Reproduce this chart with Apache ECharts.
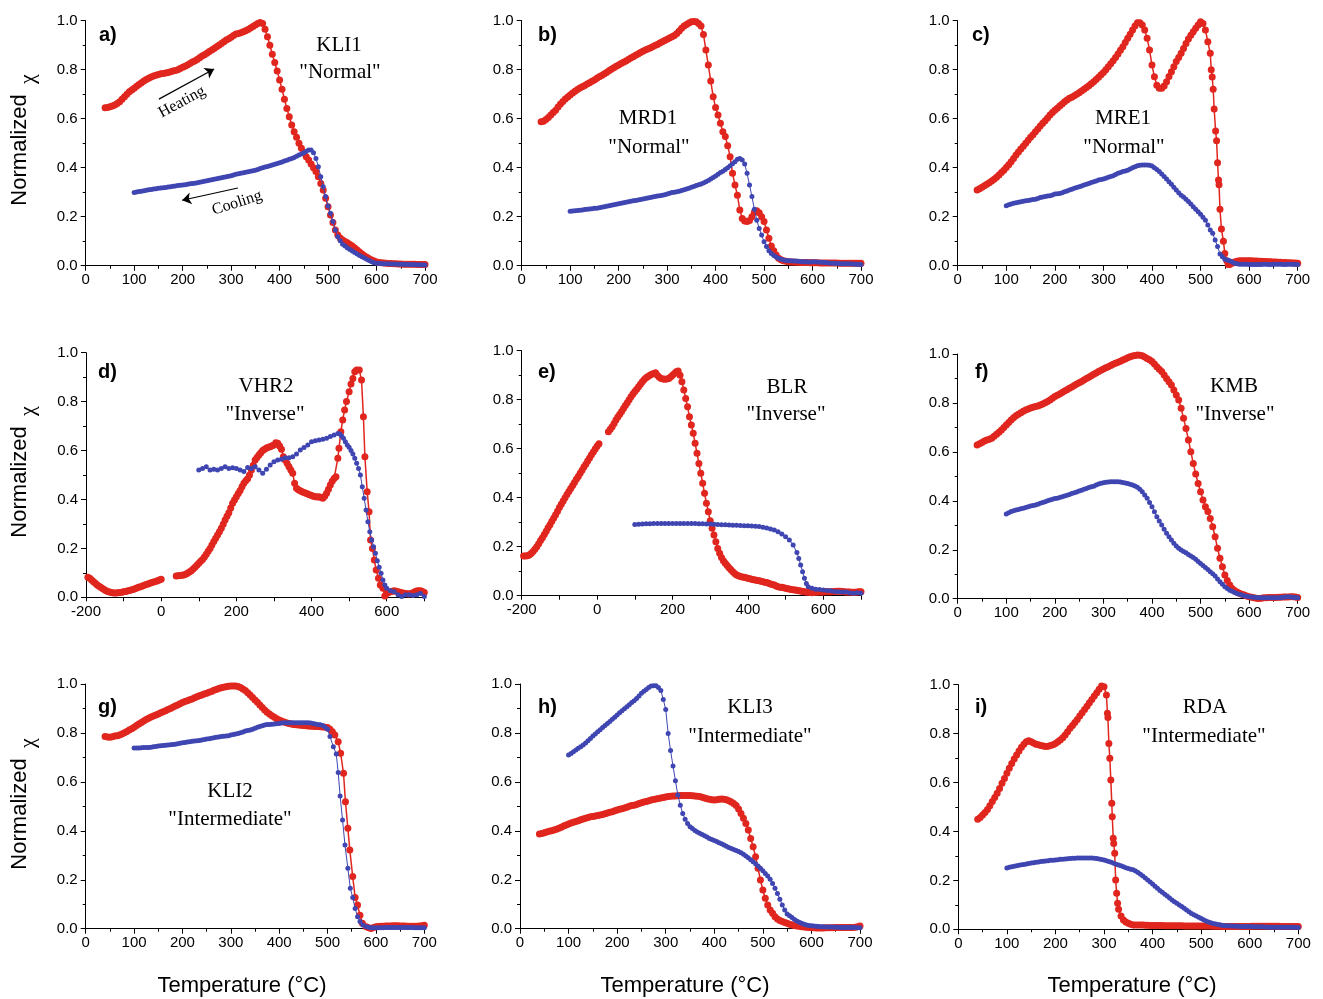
<!DOCTYPE html>
<html>
<head>
<meta charset="utf-8">
<script src="https://cdn.jsdelivr.net/npm/echarts@6/dist/echarts.min.js"></script>
<style>
html, body { margin: 0; padding: 0; background: #ffffff; }
#chart { width: 1323px; height: 999px; }
</style>
</head>
<body>
<div id="chart"></div>
<script>
// Normalized susceptibility vs temperature: heating (red) and cooling (blue) runs, [T (°C), chi]

const aHeat = [[40,0.645],[45,0.646],[50,0.649],[55,0.652],[60,0.656],[65,0.662],[70,0.669],[75,0.679],[80,0.69],[85,0.70],[90,0.71],[95,0.717],[100,0.724],[105,0.732],[110,0.74],[115,0.747],[120,0.754],[125,0.76],[130,0.765],[135,0.77],[140,0.774],[145,0.777],[150,0.78],[155,0.783],[160,0.785],[165,0.787],[170,0.789],[175,0.792],[180,0.795],[185,0.797],[190,0.80],[195,0.805],[200,0.81],[205,0.814],[210,0.819],[215,0.825],[220,0.831],[225,0.836],[230,0.842],[235,0.849],[240,0.856],[245,0.861],[250,0.867],[255,0.874],[260,0.88],[265,0.887],[270,0.894],[275,0.90],[280,0.907],[285,0.914],[290,0.921],[295,0.926],[300,0.932],[305,0.94],[310,0.946],[315,0.948],[320,0.951],[325,0.955],[330,0.959],[335,0.964],[340,0.97],[345,0.976],[350,0.982],[355,0.989],[360,0.993],[365,0.989],[370,0.965],[375,0.935],[380,0.90],[385,0.863],[390,0.829],[395,0.795],[400,0.758],[405,0.72],[410,0.679],[415,0.642],[420,0.608],[425,0.574],[430,0.547],[435,0.524],[440,0.50],[445,0.479],[450,0.461],[455,0.445],[460,0.431],[465,0.415],[470,0.40],[475,0.384],[480,0.363],[485,0.336],[490,0.309],[495,0.275],[500,0.241],[505,0.207],[510,0.176],[515,0.146],[520,0.125],[525,0.113],[530,0.105],[535,0.099],[540,0.094],[545,0.087],[550,0.08],[555,0.072],[560,0.064],[565,0.056],[570,0.048],[575,0.041],[580,0.034],[585,0.028],[590,0.023],[595,0.019],[600,0.015],[605,0.013],[610,0.012],[615,0.011],[620,0.01],[625,0.009],[630,0.009],[635,0.008],[640,0.008],[645,0.007],[650,0.007],[655,0.006],[660,0.006],[665,0.006],[670,0.006],[675,0.006],[680,0.006],[685,0.005],[690,0.005],[695,0.005],[700,0.005]];
const aCool = [[700,0.003],[695,0.003],[690,0.004],[685,0.004],[680,0.004],[675,0.005],[670,0.005],[665,0.005],[660,0.005],[655,0.006],[650,0.006],[645,0.006],[640,0.007],[635,0.007],[630,0.007],[625,0.008],[620,0.008],[615,0.008],[610,0.009],[605,0.009],[600,0.01],[595,0.012],[590,0.016],[585,0.021],[580,0.026],[575,0.031],[570,0.037],[565,0.042],[560,0.048],[555,0.054],[550,0.06],[545,0.066],[540,0.072],[535,0.08],[530,0.088],[525,0.102],[520,0.118],[515,0.146],[510,0.18],[505,0.214],[500,0.244],[495,0.282],[490,0.322],[485,0.363],[480,0.404],[475,0.438],[470,0.461],[465,0.472],[460,0.472],[455,0.467],[450,0.461],[445,0.456],[440,0.452],[435,0.447],[430,0.442],[425,0.438],[420,0.434],[415,0.43],[410,0.427],[405,0.423],[400,0.42],[395,0.417],[390,0.414],[385,0.411],[380,0.408],[375,0.405],[370,0.403],[365,0.40],[360,0.397],[355,0.393],[350,0.39],[345,0.388],[340,0.386],[335,0.383],[330,0.381],[325,0.379],[320,0.377],[315,0.375],[310,0.373],[305,0.37],[300,0.367],[295,0.365],[290,0.363],[285,0.361],[280,0.359],[275,0.357],[270,0.355],[265,0.353],[260,0.351],[255,0.349],[250,0.347],[245,0.345],[240,0.343],[235,0.341],[230,0.339],[225,0.337],[220,0.336],[215,0.334],[210,0.332],[205,0.33],[200,0.329],[195,0.328],[190,0.327],[185,0.325],[180,0.324],[175,0.322],[170,0.321],[165,0.319],[160,0.318],[155,0.317],[150,0.316],[145,0.314],[140,0.313],[135,0.311],[130,0.31],[125,0.308],[120,0.306],[115,0.304],[110,0.303],[105,0.301],[100,0.299]];

const bHeat = [[40,0.588],[45,0.59],[50,0.597],[55,0.605],[60,0.615],[65,0.625],[70,0.635],[75,0.648],[80,0.66],[85,0.67],[90,0.68],[95,0.689],[100,0.697],[105,0.705],[110,0.712],[115,0.719],[120,0.725],[125,0.73],[130,0.736],[135,0.742],[140,0.747],[145,0.753],[150,0.758],[155,0.765],[160,0.771],[165,0.776],[170,0.782],[175,0.789],[180,0.796],[185,0.802],[190,0.808],[195,0.814],[200,0.819],[205,0.825],[210,0.83],[215,0.836],[220,0.842],[225,0.848],[230,0.853],[235,0.859],[240,0.864],[245,0.87],[250,0.875],[255,0.88],[260,0.884],[265,0.889],[270,0.894],[275,0.899],[280,0.903],[285,0.909],[290,0.914],[295,0.919],[300,0.924],[305,0.929],[310,0.934],[315,0.94],[320,0.948],[325,0.958],[330,0.969],[335,0.978],[340,0.985],[345,0.991],[350,0.996],[355,0.997],[360,0.996],[365,0.989],[370,0.978],[375,0.944],[380,0.88],[385,0.819],[390,0.754],[395,0.69],[400,0.646],[405,0.615],[410,0.581],[415,0.547],[420,0.527],[425,0.49],[430,0.445],[435,0.377],[440,0.329],[445,0.288],[450,0.227],[455,0.193],[460,0.182],[465,0.18],[470,0.184],[475,0.20],[480,0.218],[485,0.224],[490,0.216],[495,0.20],[500,0.18],[505,0.146],[510,0.112],[515,0.08],[520,0.061],[525,0.044],[530,0.03],[535,0.024],[540,0.02],[545,0.018],[550,0.016],[555,0.015],[560,0.015],[565,0.014],[570,0.014],[575,0.013],[580,0.013],[585,0.013],[590,0.013],[595,0.012],[600,0.012],[605,0.012],[610,0.012],[615,0.011],[620,0.011],[625,0.011],[630,0.011],[635,0.011],[640,0.011],[645,0.011],[650,0.011],[655,0.01],[660,0.01],[665,0.01],[670,0.01],[675,0.01],[680,0.01],[685,0.01],[690,0.01],[695,0.01],[700,0.01]];
const bCool = [[700,0.005],[695,0.006],[690,0.006],[685,0.007],[680,0.007],[675,0.008],[670,0.008],[665,0.008],[660,0.008],[655,0.009],[650,0.009],[645,0.01],[640,0.01],[635,0.011],[630,0.012],[625,0.013],[620,0.014],[615,0.014],[610,0.015],[605,0.016],[600,0.016],[595,0.015],[590,0.015],[585,0.016],[580,0.016],[575,0.017],[570,0.018],[565,0.019],[560,0.019],[555,0.02],[550,0.02],[545,0.021],[540,0.023],[535,0.026],[530,0.03],[525,0.036],[520,0.042],[515,0.05],[510,0.061],[505,0.078],[500,0.098],[495,0.125],[490,0.152],[485,0.186],[480,0.23],[475,0.282],[470,0.329],[465,0.377],[460,0.415],[455,0.431],[450,0.438],[445,0.434],[440,0.424],[435,0.416],[430,0.408],[425,0.40],[420,0.393],[415,0.386],[410,0.38],[405,0.373],[400,0.366],[395,0.36],[390,0.354],[385,0.348],[380,0.343],[375,0.338],[370,0.333],[365,0.33],[360,0.327],[355,0.323],[350,0.32],[345,0.316],[340,0.313],[335,0.31],[330,0.307],[325,0.304],[320,0.302],[315,0.30],[310,0.299],[305,0.296],[300,0.293],[295,0.29],[290,0.288],[285,0.286],[280,0.284],[275,0.282],[270,0.28],[265,0.278],[260,0.276],[255,0.274],[250,0.272],[245,0.27],[240,0.268],[235,0.266],[230,0.265],[225,0.263],[220,0.261],[215,0.259],[210,0.257],[205,0.255],[200,0.253],[195,0.251],[190,0.249],[185,0.247],[180,0.245],[175,0.243],[170,0.241],[165,0.239],[160,0.237],[155,0.235],[150,0.234],[145,0.232],[140,0.231],[135,0.23],[130,0.229],[125,0.227],[120,0.226],[115,0.225],[110,0.224],[105,0.223],[100,0.222]];

const cHeat = [[40,0.309],[45,0.314],[50,0.32],[55,0.326],[60,0.332],[65,0.339],[70,0.346],[75,0.353],[80,0.361],[85,0.37],[90,0.38],[95,0.39],[100,0.401],[105,0.412],[110,0.424],[115,0.438],[120,0.452],[125,0.464],[130,0.476],[135,0.488],[140,0.50],[145,0.512],[150,0.524],[155,0.535],[160,0.547],[165,0.558],[170,0.57],[175,0.581],[180,0.592],[185,0.603],[190,0.615],[195,0.625],[200,0.635],[205,0.643],[210,0.652],[215,0.66],[220,0.669],[225,0.676],[230,0.683],[235,0.688],[240,0.694],[245,0.70],[250,0.706],[255,0.713],[260,0.72],[265,0.727],[270,0.735],[275,0.743],[280,0.751],[285,0.76],[290,0.769],[295,0.779],[300,0.789],[305,0.80],[310,0.812],[315,0.824],[320,0.837],[325,0.85],[330,0.864],[335,0.879],[340,0.894],[345,0.911],[350,0.928],[355,0.945],[360,0.962],[365,0.978],[370,0.992],[375,0.992],[380,0.982],[385,0.962],[390,0.928],[395,0.88],[400,0.819],[405,0.771],[410,0.737],[415,0.724],[420,0.724],[425,0.733],[430,0.751],[435,0.772],[440,0.792],[445,0.812],[450,0.833],[455,0.85],[460,0.867],[465,0.887],[470,0.907],[475,0.925],[480,0.941],[485,0.955],[490,0.969],[495,0.982],[500,0.996],[505,0.989],[510,0.962],[515,0.914],[520,0.867],[522,0.80],[524,0.77],[526,0.72],[528,0.64],[531,0.55],[533,0.51],[535,0.42],[537,0.35],[538,0.33],[540,0.23],[543,0.15],[547,0.10],[550,0.05],[554,0.02],[557,0.005],[560,0.005],[565,0.01],[570,0.015],[575,0.018],[580,0.02],[585,0.02],[590,0.02],[595,0.02],[600,0.02],[605,0.02],[610,0.019],[615,0.019],[620,0.018],[625,0.018],[630,0.017],[635,0.017],[640,0.016],[645,0.016],[650,0.015],[655,0.015],[660,0.014],[665,0.014],[670,0.013],[675,0.013],[680,0.012],[685,0.012],[690,0.011],[695,0.011],[700,0.01]];
const cCool = [[700,0.005],[695,0.005],[690,0.006],[685,0.006],[680,0.006],[675,0.005],[670,0.005],[665,0.006],[660,0.006],[655,0.006],[650,0.006],[645,0.005],[640,0.005],[635,0.006],[630,0.006],[625,0.005],[620,0.005],[615,0.005],[610,0.005],[605,0.005],[600,0.005],[595,0.006],[590,0.006],[585,0.006],[580,0.006],[575,0.008],[570,0.01],[565,0.015],[560,0.02],[555,0.023],[550,0.026],[545,0.037],[540,0.048],[535,0.078],[530,0.105],[525,0.132],[520,0.146],[515,0.166],[510,0.186],[505,0.198],[500,0.21],[495,0.22],[490,0.23],[485,0.241],[480,0.252],[475,0.262],[470,0.271],[465,0.28],[460,0.288],[455,0.298],[450,0.309],[445,0.32],[440,0.332],[435,0.343],[430,0.354],[425,0.364],[420,0.374],[415,0.384],[410,0.393],[405,0.40],[400,0.407],[395,0.41],[390,0.411],[385,0.411],[380,0.411],[375,0.41],[370,0.408],[365,0.404],[360,0.40],[355,0.395],[350,0.39],[345,0.387],[340,0.384],[335,0.38],[330,0.377],[325,0.372],[320,0.367],[315,0.364],[310,0.361],[305,0.357],[300,0.354],[295,0.352],[290,0.35],[285,0.346],[280,0.343],[275,0.34],[270,0.336],[265,0.332],[260,0.329],[255,0.325],[250,0.322],[245,0.319],[240,0.316],[235,0.312],[230,0.309],[225,0.305],[220,0.302],[215,0.298],[210,0.295],[205,0.294],[200,0.293],[195,0.289],[190,0.286],[185,0.284],[180,0.282],[175,0.28],[170,0.278],[165,0.274],[160,0.271],[155,0.27],[150,0.268],[145,0.266],[140,0.265],[135,0.263],[130,0.261],[125,0.259],[120,0.257],[115,0.255],[110,0.252],[105,0.249],[100,0.245]];

// low-temperature run (liquid nitrogen to room temperature) and high-temperature run
const dHeatLow = [[-195,0.082],[-190,0.078],[-185,0.071],[-180,0.064],[-175,0.057],[-170,0.05],[-165,0.045],[-160,0.04],[-155,0.035],[-150,0.03],[-145,0.026],[-140,0.023],[-135,0.021],[-130,0.019],[-125,0.018],[-120,0.018],[-115,0.019],[-110,0.02],[-105,0.021],[-100,0.023],[-95,0.024],[-90,0.026],[-85,0.028],[-80,0.03],[-75,0.032],[-70,0.035],[-65,0.038],[-60,0.041],[-55,0.043],[-50,0.046],[-45,0.049],[-40,0.052],[-35,0.054],[-30,0.057],[-25,0.06],[-20,0.063],[-15,0.065],[-10,0.068],[-5,0.071],[0,0.074]];
const dHeatHigh = [[40,0.087],[45,0.088],[50,0.089],[55,0.09],[60,0.091],[65,0.094],[70,0.098],[75,0.103],[80,0.109],[85,0.116],[90,0.123],[95,0.131],[100,0.139],[105,0.147],[110,0.155],[115,0.165],[120,0.176],[125,0.188],[130,0.20],[135,0.214],[140,0.228],[145,0.241],[150,0.255],[155,0.268],[160,0.282],[165,0.299],[170,0.316],[175,0.331],[180,0.346],[185,0.365],[190,0.384],[195,0.398],[200,0.411],[205,0.424],[210,0.437],[215,0.452],[220,0.466],[225,0.476],[230,0.485],[235,0.50],[240,0.52],[245,0.54],[250,0.561],[255,0.572],[260,0.582],[265,0.591],[270,0.60],[275,0.605],[280,0.61],[285,0.613],[290,0.616],[295,0.62],[300,0.623],[305,0.632],[310,0.63],[315,0.619],[320,0.605],[325,0.575],[330,0.561],[335,0.548],[340,0.534],[345,0.52],[350,0.507],[355,0.466],[360,0.446],[365,0.44],[370,0.436],[375,0.432],[380,0.428],[385,0.425],[390,0.422],[395,0.419],[400,0.416],[405,0.413],[410,0.411],[415,0.41],[420,0.411],[425,0.408],[430,0.405],[435,0.413],[440,0.425],[445,0.442],[450,0.459],[455,0.474],[460,0.486],[465,0.493],[470,0.568],[473,0.609],[478,0.677],[483,0.725],[488,0.766],[493,0.80],[500,0.84],[505,0.872],[510,0.895],[515,0.922],[520,0.929],[527,0.929],[533,0.888],[538,0.738],[542,0.575],[548,0.432],[553,0.35],[557,0.234],[562,0.20],[567,0.152],[572,0.112],[578,0.078],[583,0.05],[590,0.037],[595,0.005],[600,0.016],[605,0.02],[610,0.023],[615,0.025],[620,0.027],[625,0.025],[630,0.023],[635,0.021],[640,0.019],[645,0.017],[650,0.016],[655,0.015],[660,0.014],[665,0.016],[670,0.019],[675,0.023],[680,0.026],[685,0.027],[690,0.027],[695,0.024],[700,0.02]];
const dCool = [[700,0.003],[690,0.016],[680,0.01],[670,0.007],[660,0.01],[650,0.01],[640,0.003],[630,0.01],[620,0.023],[610,0.027],[600,0.037],[595,0.05],[590,0.071],[585,0.098],[580,0.123],[575,0.149],[570,0.18],[565,0.207],[560,0.234],[555,0.268],[550,0.309],[545,0.357],[540,0.405],[535,0.452],[530,0.50],[525,0.527],[520,0.548],[515,0.568],[510,0.586],[505,0.60],[500,0.613],[495,0.623],[490,0.636],[485,0.65],[480,0.659],[475,0.668],[470,0.67],[460,0.664],[450,0.657],[440,0.65],[430,0.646],[420,0.643],[410,0.64],[400,0.636],[390,0.623],[380,0.612],[370,0.602],[360,0.586],[350,0.575],[340,0.571],[330,0.571],[320,0.564],[310,0.561],[300,0.554],[290,0.541],[280,0.523],[270,0.507],[260,0.52],[250,0.534],[240,0.527],[230,0.531],[220,0.514],[210,0.52],[200,0.527],[190,0.53],[180,0.527],[170,0.534],[160,0.527],[150,0.52],[140,0.523],[130,0.52],[120,0.534],[110,0.527],[100,0.52]];

const eHeatLow = [[-195,0.162],[-190,0.162],[-185,0.163],[-180,0.166],[-175,0.172],[-170,0.18],[-165,0.19],[-160,0.20],[-155,0.212],[-150,0.225],[-145,0.237],[-140,0.25],[-135,0.263],[-130,0.277],[-125,0.29],[-120,0.304],[-115,0.317],[-110,0.33],[-105,0.345],[-100,0.36],[-95,0.373],[-90,0.387],[-85,0.40],[-80,0.413],[-75,0.425],[-70,0.438],[-65,0.45],[-60,0.462],[-55,0.475],[-50,0.487],[-45,0.50],[-40,0.512],[-35,0.525],[-30,0.537],[-25,0.55],[-20,0.562],[-15,0.575],[-10,0.587],[-5,0.599],[0,0.61],[5,0.62]];
const eHeatHigh = [[30,0.669],[35,0.679],[40,0.69],[45,0.703],[50,0.717],[55,0.729],[60,0.741],[65,0.752],[70,0.764],[75,0.776],[80,0.788],[85,0.80],[90,0.812],[95,0.823],[100,0.833],[105,0.843],[110,0.853],[115,0.863],[120,0.873],[125,0.882],[130,0.89],[135,0.895],[140,0.90],[145,0.904],[150,0.907],[155,0.91],[160,0.90],[165,0.892],[170,0.887],[175,0.884],[180,0.883],[185,0.884],[190,0.887],[195,0.893],[200,0.90],[205,0.907],[210,0.914],[215,0.917],[220,0.90],[225,0.873],[230,0.84],[235,0.805],[240,0.771],[245,0.73],[250,0.697],[255,0.663],[260,0.622],[265,0.581],[270,0.54],[275,0.50],[280,0.459],[285,0.418],[290,0.377],[295,0.343],[300,0.306],[305,0.275],[310,0.248],[315,0.22],[320,0.193],[325,0.173],[330,0.156],[335,0.143],[340,0.132],[345,0.123],[350,0.114],[355,0.106],[360,0.098],[365,0.091],[370,0.084],[375,0.081],[380,0.078],[385,0.076],[390,0.075],[395,0.073],[400,0.071],[405,0.069],[410,0.067],[415,0.065],[420,0.064],[425,0.062],[430,0.061],[435,0.059],[440,0.057],[445,0.055],[450,0.054],[455,0.051],[460,0.048],[465,0.046],[470,0.044],[475,0.04],[480,0.037],[485,0.035],[490,0.034],[495,0.032],[500,0.03],[505,0.028],[510,0.027],[515,0.025],[520,0.024],[525,0.023],[530,0.022],[535,0.02],[540,0.019],[545,0.017],[550,0.016],[555,0.015],[560,0.014],[565,0.013],[570,0.012],[575,0.013],[580,0.014],[585,0.015],[590,0.015],[595,0.015],[600,0.015],[605,0.016],[610,0.016],[615,0.016],[620,0.016],[625,0.017],[630,0.017],[635,0.018],[640,0.018],[645,0.018],[650,0.017],[655,0.016],[660,0.015],[665,0.015],[670,0.015],[675,0.014],[680,0.014],[685,0.014],[690,0.015],[695,0.016],[700,0.016]];
const eCool = [[700,0.01],[690,0.012],[680,0.01],[670,0.012],[660,0.015],[650,0.015],[640,0.016],[630,0.017],[620,0.02],[610,0.021],[600,0.023],[590,0.025],[580,0.026],[570,0.03],[560,0.037],[555,0.05],[550,0.071],[545,0.098],[540,0.125],[535,0.152],[530,0.176],[520,0.207],[510,0.227],[500,0.241],[490,0.252],[480,0.261],[470,0.268],[460,0.272],[450,0.276],[440,0.279],[430,0.282],[420,0.283],[410,0.284],[400,0.286],[390,0.286],[380,0.287],[370,0.288],[360,0.288],[350,0.289],[340,0.29],[330,0.29],[320,0.291],[310,0.292],[300,0.293],[290,0.293],[280,0.294],[270,0.294],[260,0.295],[250,0.295],[240,0.295],[230,0.295],[220,0.295],[210,0.295],[200,0.295],[190,0.295],[180,0.295],[170,0.295],[160,0.295],[150,0.295],[140,0.294],[130,0.294],[120,0.293],[110,0.292],[100,0.291]];

const fHeat = [[40,0.628],[45,0.633],[50,0.638],[55,0.644],[60,0.649],[65,0.652],[70,0.656],[75,0.664],[80,0.672],[85,0.68],[90,0.689],[95,0.70],[100,0.71],[105,0.72],[110,0.73],[115,0.739],[120,0.748],[125,0.754],[130,0.76],[135,0.766],[140,0.771],[145,0.775],[150,0.779],[155,0.782],[160,0.785],[165,0.788],[170,0.792],[175,0.796],[180,0.801],[185,0.806],[190,0.812],[195,0.819],[200,0.826],[205,0.831],[210,0.837],[215,0.843],[220,0.849],[225,0.854],[230,0.86],[235,0.865],[240,0.871],[245,0.877],[250,0.883],[255,0.888],[260,0.894],[265,0.90],[270,0.905],[275,0.911],[280,0.917],[285,0.922],[290,0.928],[295,0.934],[300,0.939],[305,0.944],[310,0.948],[315,0.953],[320,0.958],[325,0.962],[330,0.966],[335,0.97],[340,0.975],[345,0.98],[350,0.985],[355,0.989],[360,0.992],[365,0.994],[370,0.996],[375,0.995],[380,0.993],[385,0.988],[390,0.982],[395,0.976],[400,0.969],[405,0.959],[410,0.948],[415,0.938],[420,0.928],[425,0.914],[430,0.90],[435,0.887],[440,0.873],[445,0.853],[450,0.832],[455,0.812],[460,0.778],[465,0.737],[470,0.696],[475,0.649],[480,0.601],[485,0.553],[490,0.51],[495,0.471],[500,0.437],[505,0.403],[510,0.376],[515,0.356],[520,0.328],[525,0.294],[530,0.253],[535,0.206],[540,0.165],[545,0.131],[550,0.097],[555,0.074],[560,0.056],[565,0.042],[570,0.033],[575,0.027],[580,0.022],[585,0.018],[590,0.015],[595,0.011],[600,0.008],[605,0.006],[610,0.004],[615,0.002],[620,0.001],[625,0.002],[630,0.004],[635,0.004],[640,0.005],[645,0.005],[650,0.005],[655,0.005],[660,0.006],[665,0.006],[670,0.007],[675,0.007],[680,0.007],[685,0.008],[690,0.008],[695,0.007],[700,0.005]];
const fCool = [[700,0.004],[695,0.005],[690,0.006],[685,0.007],[680,0.008],[675,0.007],[670,0.006],[665,0.005],[660,0.004],[655,0.004],[650,0.004],[645,0.004],[640,0.004],[635,0.004],[630,0.004],[625,0.004],[620,0.004],[615,0.005],[610,0.006],[605,0.007],[600,0.008],[595,0.01],[590,0.012],[585,0.015],[580,0.018],[575,0.021],[570,0.025],[565,0.03],[560,0.035],[555,0.042],[550,0.049],[545,0.059],[540,0.069],[535,0.081],[530,0.093],[525,0.102],[520,0.11],[515,0.119],[510,0.128],[505,0.136],[500,0.144],[495,0.152],[490,0.161],[485,0.168],[480,0.174],[475,0.181],[470,0.188],[465,0.193],[460,0.199],[455,0.206],[450,0.215],[445,0.227],[440,0.24],[435,0.253],[430,0.267],[425,0.284],[420,0.301],[415,0.318],[410,0.335],[405,0.355],[400,0.376],[395,0.393],[390,0.41],[385,0.424],[380,0.437],[375,0.447],[370,0.455],[365,0.461],[360,0.465],[355,0.468],[350,0.471],[345,0.473],[340,0.475],[335,0.477],[330,0.478],[325,0.478],[320,0.478],[315,0.478],[310,0.477],[305,0.476],[300,0.474],[295,0.472],[290,0.469],[285,0.465],[280,0.46],[275,0.457],[270,0.454],[265,0.45],[260,0.447],[255,0.443],[250,0.44],[245,0.436],[240,0.433],[235,0.43],[230,0.426],[225,0.423],[220,0.42],[215,0.417],[210,0.414],[205,0.411],[200,0.409],[195,0.406],[190,0.403],[185,0.40],[180,0.396],[175,0.393],[170,0.39],[165,0.386],[160,0.383],[155,0.381],[150,0.379],[145,0.376],[140,0.373],[135,0.37],[130,0.368],[125,0.365],[120,0.362],[115,0.359],[110,0.356],[105,0.351],[100,0.346]];

const gHeat = [[40,0.785],[45,0.783],[50,0.782],[55,0.784],[60,0.787],[65,0.789],[70,0.792],[75,0.796],[80,0.801],[85,0.806],[90,0.812],[95,0.817],[100,0.823],[105,0.83],[110,0.837],[115,0.843],[120,0.849],[125,0.855],[130,0.86],[135,0.865],[140,0.869],[145,0.873],[150,0.877],[155,0.882],[160,0.887],[165,0.891],[170,0.896],[175,0.90],[180,0.905],[185,0.91],[190,0.914],[195,0.919],[200,0.924],[205,0.928],[210,0.932],[215,0.936],[220,0.939],[225,0.944],[230,0.948],[235,0.952],[240,0.955],[245,0.959],[250,0.962],[255,0.966],[260,0.969],[265,0.974],[270,0.978],[275,0.982],[280,0.985],[285,0.987],[290,0.989],[295,0.991],[300,0.992],[305,0.992],[310,0.992],[315,0.99],[320,0.986],[325,0.98],[330,0.973],[335,0.964],[340,0.955],[345,0.945],[350,0.935],[355,0.925],[360,0.914],[365,0.904],[370,0.894],[375,0.885],[380,0.877],[385,0.87],[390,0.864],[395,0.858],[400,0.853],[405,0.849],[410,0.845],[415,0.842],[420,0.839],[425,0.837],[430,0.835],[435,0.833],[440,0.832],[445,0.831],[450,0.83],[455,0.829],[460,0.828],[465,0.827],[470,0.827],[475,0.826],[480,0.826],[485,0.825],[490,0.824],[495,0.823],[500,0.822],[505,0.815],[510,0.805],[515,0.792],[522,0.764],[527,0.717],[533,0.635],[537,0.519],[542,0.41],[546,0.322],[552,0.213],[557,0.128],[562,0.097],[567,0.055],[572,0.022],[580,0.008],[585,0.004],[590,0.001],[595,0.005],[600,0.008],[605,0.009],[610,0.01],[615,0.01],[620,0.011],[625,0.011],[630,0.011],[635,0.012],[640,0.012],[645,0.012],[650,0.011],[655,0.011],[660,0.011],[665,0.01],[670,0.01],[675,0.01],[680,0.01],[685,0.01],[690,0.011],[695,0.012],[700,0.014]];
const gCool = [[700,0.004],[695,0.004],[690,0.004],[685,0.004],[680,0.004],[675,0.005],[670,0.005],[665,0.005],[660,0.005],[655,0.005],[650,0.005],[645,0.005],[640,0.005],[635,0.005],[630,0.005],[625,0.005],[620,0.005],[615,0.004],[610,0.004],[605,0.004],[600,0.004],[595,0.004],[590,0.004],[585,0.006],[580,0.008],[573,0.015],[567,0.029],[562,0.049],[557,0.083],[552,0.128],[547,0.165],[542,0.247],[536,0.342],[531,0.444],[526,0.542],[522,0.638],[518,0.714],[512,0.744],[505,0.785],[500,0.815],[495,0.823],[490,0.83],[485,0.833],[480,0.835],[475,0.837],[470,0.839],[465,0.841],[460,0.842],[455,0.842],[450,0.842],[445,0.842],[440,0.842],[435,0.842],[430,0.842],[425,0.842],[420,0.842],[415,0.842],[410,0.842],[405,0.841],[400,0.839],[395,0.838],[390,0.837],[385,0.836],[380,0.835],[375,0.834],[370,0.832],[365,0.829],[360,0.826],[355,0.823],[350,0.819],[345,0.815],[340,0.812],[335,0.81],[330,0.808],[325,0.804],[320,0.801],[315,0.798],[310,0.796],[305,0.794],[300,0.792],[295,0.789],[290,0.787],[285,0.786],[280,0.785],[275,0.783],[270,0.782],[265,0.78],[260,0.778],[255,0.776],[250,0.775],[245,0.773],[240,0.771],[235,0.769],[230,0.768],[225,0.767],[220,0.766],[215,0.764],[210,0.763],[205,0.761],[200,0.76],[195,0.758],[190,0.756],[185,0.754],[180,0.753],[175,0.752],[170,0.751],[165,0.75],[160,0.749],[155,0.748],[150,0.747],[145,0.745],[140,0.744],[135,0.742],[130,0.741],[125,0.74],[120,0.74],[115,0.739],[110,0.738],[105,0.738],[100,0.738]];

const hHeat = [[40,0.387],[45,0.389],[50,0.392],[55,0.395],[60,0.398],[65,0.40],[70,0.403],[75,0.406],[80,0.41],[85,0.415],[90,0.42],[95,0.424],[100,0.428],[105,0.432],[110,0.435],[115,0.438],[120,0.441],[125,0.445],[130,0.448],[135,0.451],[140,0.454],[145,0.457],[150,0.459],[155,0.461],[160,0.463],[165,0.465],[170,0.467],[175,0.47],[180,0.473],[185,0.476],[190,0.478],[195,0.482],[200,0.485],[205,0.488],[210,0.49],[215,0.493],[220,0.496],[225,0.50],[230,0.503],[235,0.505],[240,0.508],[245,0.512],[250,0.515],[255,0.518],[260,0.52],[265,0.523],[270,0.526],[275,0.528],[280,0.53],[285,0.532],[290,0.534],[295,0.536],[300,0.538],[305,0.54],[310,0.541],[315,0.542],[320,0.542],[325,0.543],[330,0.544],[335,0.544],[340,0.544],[345,0.544],[350,0.544],[355,0.543],[360,0.542],[365,0.541],[370,0.54],[375,0.537],[380,0.534],[385,0.531],[390,0.529],[395,0.527],[400,0.526],[405,0.527],[410,0.529],[415,0.53],[420,0.529],[425,0.527],[430,0.523],[435,0.518],[440,0.512],[445,0.503],[450,0.489],[455,0.471],[460,0.451],[465,0.43],[470,0.403],[475,0.369],[480,0.335],[485,0.294],[490,0.247],[495,0.199],[500,0.158],[505,0.124],[510,0.097],[515,0.076],[520,0.063],[525,0.049],[530,0.04],[535,0.034],[540,0.029],[545,0.025],[550,0.022],[555,0.018],[560,0.015],[565,0.013],[570,0.011],[575,0.01],[580,0.008],[585,0.007],[590,0.006],[595,0.005],[600,0.004],[605,0.004],[610,0.003],[615,0.003],[620,0.003],[625,0.003],[630,0.004],[635,0.004],[640,0.004],[645,0.004],[650,0.005],[655,0.005],[660,0.005],[665,0.005],[670,0.005],[675,0.005],[680,0.005],[685,0.005],[690,0.006],[695,0.008],[700,0.011]];
const hCool = [[700,0.004],[695,0.004],[690,0.005],[685,0.005],[680,0.005],[675,0.005],[670,0.005],[665,0.005],[660,0.005],[655,0.006],[650,0.006],[645,0.007],[640,0.007],[635,0.007],[630,0.007],[625,0.008],[620,0.008],[615,0.009],[610,0.01],[605,0.011],[600,0.012],[595,0.013],[590,0.015],[585,0.018],[580,0.022],[575,0.026],[570,0.031],[565,0.038],[560,0.046],[555,0.053],[550,0.06],[545,0.076],[540,0.097],[535,0.12],[530,0.144],[525,0.165],[520,0.185],[515,0.202],[510,0.215],[505,0.226],[500,0.237],[495,0.247],[490,0.256],[485,0.265],[480,0.274],[475,0.282],[470,0.29],[465,0.297],[460,0.304],[455,0.31],[450,0.315],[445,0.32],[440,0.324],[435,0.328],[430,0.332],[425,0.337],[420,0.342],[415,0.347],[410,0.351],[405,0.356],[400,0.36],[395,0.365],[390,0.369],[385,0.375],[380,0.38],[375,0.385],[370,0.39],[365,0.395],[360,0.401],[355,0.409],[350,0.417],[345,0.43],[340,0.447],[335,0.471],[330,0.505],[325,0.546],[320,0.605],[315,0.665],[310,0.728],[305,0.798],[300,0.896],[295,0.937],[290,0.973],[285,0.986],[280,0.993],[275,0.993],[270,0.992],[265,0.986],[260,0.978],[255,0.97],[250,0.962],[245,0.951],[240,0.941],[235,0.932],[230,0.924],[225,0.915],[220,0.907],[215,0.899],[210,0.891],[205,0.882],[200,0.873],[195,0.864],[190,0.856],[185,0.847],[180,0.839],[175,0.83],[170,0.822],[165,0.813],[160,0.805],[155,0.796],[150,0.787],[145,0.777],[140,0.768],[135,0.759],[130,0.751],[125,0.744],[120,0.737],[115,0.73],[110,0.723],[105,0.716],[100,0.71]];

const iHeat = [[40,0.45],[45,0.457],[50,0.467],[55,0.478],[60,0.49],[65,0.505],[70,0.522],[75,0.539],[80,0.556],[85,0.576],[90,0.597],[95,0.617],[100,0.638],[105,0.658],[110,0.678],[115,0.696],[120,0.713],[125,0.729],[130,0.744],[135,0.757],[140,0.767],[145,0.771],[150,0.767],[155,0.762],[160,0.757],[165,0.754],[170,0.751],[175,0.749],[180,0.747],[185,0.748],[190,0.751],[195,0.755],[200,0.76],[205,0.767],[210,0.774],[215,0.783],[220,0.794],[225,0.808],[230,0.822],[235,0.833],[240,0.845],[245,0.858],[250,0.872],[255,0.885],[260,0.899],[265,0.912],[270,0.926],[275,0.94],[280,0.954],[285,0.967],[290,0.981],[295,0.995],[300,0.992],[305,0.958],[307,0.883],[308,0.866],[310,0.76],[312,0.699],[314,0.61],[316,0.515],[317,0.46],[319,0.372],[320,0.351],[322,0.311],[324,0.202],[326,0.147],[328,0.106],[330,0.082],[335,0.054],[340,0.038],[345,0.03],[350,0.025],[355,0.021],[360,0.018],[365,0.018],[370,0.018],[375,0.018],[380,0.018],[385,0.017],[390,0.017],[395,0.016],[400,0.016],[405,0.016],[410,0.016],[415,0.016],[420,0.016],[425,0.015],[430,0.015],[435,0.015],[440,0.015],[445,0.015],[450,0.015],[455,0.015],[460,0.015],[465,0.014],[470,0.014],[475,0.014],[480,0.014],[485,0.014],[490,0.014],[495,0.014],[500,0.014],[505,0.013],[510,0.013],[515,0.013],[520,0.013],[525,0.012],[530,0.012],[535,0.012],[540,0.012],[545,0.011],[550,0.011],[555,0.011],[560,0.011],[565,0.011],[570,0.011],[575,0.011],[580,0.011],[585,0.011],[590,0.011],[595,0.011],[600,0.011],[605,0.012],[610,0.012],[615,0.012],[620,0.012],[625,0.012],[630,0.012],[635,0.012],[640,0.012],[645,0.012],[650,0.012],[655,0.012],[660,0.012],[665,0.011],[670,0.011],[675,0.011],[680,0.011],[685,0.011],[690,0.011],[695,0.011],[700,0.011]];
const iCool = [[700,0.007],[695,0.007],[690,0.008],[685,0.008],[680,0.008],[675,0.008],[670,0.008],[665,0.008],[660,0.008],[655,0.008],[650,0.008],[645,0.008],[640,0.008],[635,0.009],[630,0.009],[625,0.01],[620,0.01],[615,0.01],[610,0.01],[605,0.011],[600,0.011],[595,0.011],[590,0.011],[585,0.011],[580,0.011],[575,0.012],[570,0.012],[565,0.013],[560,0.014],[555,0.015],[550,0.015],[545,0.016],[540,0.018],[535,0.02],[530,0.022],[525,0.024],[520,0.027],[515,0.03],[510,0.034],[505,0.039],[500,0.044],[495,0.049],[490,0.054],[485,0.059],[480,0.065],[475,0.072],[470,0.079],[465,0.086],[460,0.093],[455,0.099],[450,0.106],[445,0.113],[440,0.12],[435,0.128],[430,0.136],[425,0.143],[420,0.151],[415,0.159],[410,0.168],[405,0.176],[400,0.185],[395,0.193],[390,0.202],[385,0.21],[380,0.218],[375,0.225],[370,0.232],[365,0.238],[360,0.243],[355,0.246],[350,0.249],[345,0.252],[340,0.256],[335,0.26],[330,0.263],[325,0.266],[320,0.27],[315,0.274],[310,0.277],[305,0.28],[300,0.283],[295,0.285],[290,0.287],[285,0.289],[280,0.29],[275,0.291],[270,0.292],[265,0.292],[260,0.292],[255,0.292],[250,0.292],[245,0.291],[240,0.29],[235,0.29],[230,0.289],[225,0.288],[220,0.287],[215,0.286],[210,0.286],[205,0.284],[200,0.283],[195,0.282],[190,0.282],[185,0.28],[180,0.279],[175,0.278],[170,0.277],[165,0.275],[160,0.274],[155,0.272],[150,0.271],[145,0.269],[140,0.267],[135,0.265],[130,0.264],[125,0.262],[120,0.26],[115,0.258],[110,0.256],[105,0.254],[100,0.251]];

// Tick labels and panel texts
const panelLetters = ['a)', 'b)', 'c)', 'd)', 'e)', 'f)', 'g)', 'h)', 'i)'];
const sampleNames = ['KLI1', 'MRD1', 'MRE1', 'VHR2', 'BLR', 'KMB', 'KLI2', 'KLI3', 'RDA'];
const curveTypes = ['"Normal"', '"Normal"', '"Normal"', '"Inverse"', '"Inverse"', '"Inverse"', '"Intermediate"', '"Intermediate"', '"Intermediate"'];
const yTickLabels = ['0.0', '0.2', '0.4', '0.6', '0.8', '1.0'];
const yTitle = 'Normalized';
const yTitleSymbol = 'χ';
const xTitle = 'Temperature (°C)';

// ---- styling and layout ----
const RED = '#e0261e';
const BLUE = '#3f46b2';
const SANS = '"Liberation Sans", Arial, Helvetica, sans-serif';
const SERIF = '"Liberation Serif", "Times New Roman", serif';

const heatRuns = [[aHeat], [bHeat], [cHeat], [dHeatLow, dHeatHigh], [eHeatLow, eHeatHigh], [fHeat], [gHeat], [hHeat], [iHeat]];
const coolRuns = [aCool, bCool, cCool, dCool, eCool, fCool, gCool, hCool, iCool];
const wideRange = [false, false, false, true, true, false, false, false, false];

const gridBoxes = [
  { left: 85.7, top: 20.7, width: 339.3, height: 245 },
  { left: 521.7, top: 20.7, width: 339.3, height: 245 },
  { left: 957.7, top: 20.7, width: 340, height: 245 },
  { left: 86, top: 352.7, width: 338.3, height: 244.6 },
  { left: 521.7, top: 350.7, width: 339.3, height: 245 },
  { left: 957.7, top: 354, width: 340, height: 244.7 },
  { left: 85.7, top: 684, width: 338.6, height: 244.7 },
  { left: 520, top: 684, width: 340, height: 244.7 },
  { left: 958.3, top: 684.7, width: 340, height: 244.6 }
];
const letterPos = [[99, 35], [538, 35], [972, 35], [98, 372], [538, 372], [975, 372], [98, 707], [538, 707], [975, 707]];
const namePos = [[339, 45], [648, 118], [1123, 118], [266, 386], [787, 387], [1234, 386], [230, 791], [750, 707], [1205, 707]];
const typePos = [[340, 72], [649, 147], [1124, 147], [265, 414], [786, 414], [1235, 414], [230, 819], [750, 736], [1204, 736]];

const blackLine = { color: '#000', width: 1 };

const grid = gridBoxes.map(g => Object.assign({ containLabel: false }, g));

const xAxis = gridBoxes.map((g, i) => {
  const wide = wideRange[i];
  return {
    gridIndex: i,
    type: 'value',
    min: wide ? -200 : 0,
    max: 700,
    interval: 100,
    axisLine: { show: true, onZero: false, lineStyle: blackLine },
    axisTick: { show: true, inside: false, length: wide ? 4 : 5, lineStyle: blackLine },
    minorTick: wide ? { show: false } : { show: true, splitNumber: 2, length: 3, lineStyle: blackLine },
    splitLine: { show: false },
    minorSplitLine: { show: false },
    axisLabel: {
      show: true, color: '#000', fontFamily: SANS, fontSize: 15, margin: 7,
      formatter: v => (wide && (v % 200 !== 0 || v === 700)) ? '' : String(v)
    }
  };
});

const yAxis = gridBoxes.map((g, i) => ({
  gridIndex: i,
  type: 'value',
  min: 0,
  max: 1,
  interval: 0.2,
  axisLine: { show: true, onZero: false, lineStyle: blackLine },
  axisTick: { show: true, inside: false, length: 5, lineStyle: blackLine },
  minorTick: { show: true, splitNumber: 2, length: 3, lineStyle: blackLine },
  splitLine: { show: false },
  minorSplitLine: { show: false },
  axisLabel: {
    show: true, color: '#000', fontFamily: SANS, fontSize: 15, margin: 8,
    formatter: v => yTickLabels[Math.round(v / 0.2)]
  }
}));

function runSeries(data, i, color, size, width, z) {
  return {
    type: 'line',
    xAxisIndex: i,
    yAxisIndex: i,
    data: data,
    symbol: 'circle',
    symbolSize: size,
    showSymbol: true,
    clip: false,
    animation: false,
    silent: true,
    z: z,
    lineStyle: { color: color, width: width },
    itemStyle: { color: color, borderWidth: 0 },
    emphasis: { disabled: true }
  };
}

const series = [];
heatRuns.forEach((runs, i) => {
  runs.forEach(run => series.push(runSeries(run, i, RED, 7, 1.5, 2)));
});
coolRuns.forEach((run, i) => series.push(runSeries(run, i, BLUE, 5, 1, 3)));

// Heating / cooling direction arrows in panel a
series[0].markLine = {
  silent: true,
  animation: false,
  symbol: ['none', 'arrow'],
  symbolSize: 9,
  label: { show: false },
  lineStyle: { color: '#000', width: 1.2, type: 'solid' },
  emphasis: { disabled: true },
  data: [
    [{ coord: [151, 0.68] }, { coord: [265, 0.803] }],
    [{ coord: [314, 0.317] }, { coord: [199, 0.267] }]
  ]
};

function text(x, y, str, opts) {
  return Object.assign({
    type: 'text',
    x: x,
    y: y,
    silent: true,
    style: Object.assign({
      text: str,
      fill: '#000',
      align: 'center',
      verticalAlign: 'middle',
      textAlign: 'center',
      textVerticalAlign: 'middle'
    }, opts.style)
  }, opts.el || {});
}

const graphic = [];
panelLetters.forEach((s, i) => {
  graphic.push(text(letterPos[i][0], letterPos[i][1], s, {
    style: { fontFamily: SANS, fontSize: 20, fontWeight: 'bold', align: 'left', textAlign: 'left' }
  }));
});
sampleNames.forEach((s, i) => {
  graphic.push(text(namePos[i][0], namePos[i][1], s, { style: { fontFamily: SERIF, fontSize: 21 } }));
  graphic.push(text(typePos[i][0], typePos[i][1], curveTypes[i], { style: { fontFamily: SERIF, fontSize: 21 } }));
});
[150, 482, 814].forEach(cy => {
  graphic.push(text(20, cy, yTitle, { style: { fontFamily: SANS, fontSize: 22 }, el: { rotation: Math.PI / 2 } }));
  graphic.push(text(28, cy - 71, yTitleSymbol, { style: { fontFamily: SERIF, fontSize: 22 }, el: { rotation: Math.PI / 2 } }));
});
[242, 685, 1132].forEach(cx => {
  graphic.push(text(cx, 986, xTitle, { style: { fontFamily: SANS, fontSize: 22 } }));
});
graphic.push(text(182, 102, 'Heating', { style: { fontFamily: SERIF, fontSize: 16 }, el: { rotation: 0.5 } }));
graphic.push(text(237, 203, 'Cooling', { style: { fontFamily: SERIF, fontSize: 16 }, el: { rotation: 0.31 } }));

const chart = echarts.init(document.getElementById('chart'), null, { renderer: 'canvas', width: 1323, height: 999 });
chart.setOption({
  backgroundColor: '#ffffff',
  animation: false,
  grid: grid,
  xAxis: xAxis,
  yAxis: yAxis,
  series: series,
  graphic: { elements: graphic }
});
</script>
</body>
</html>
